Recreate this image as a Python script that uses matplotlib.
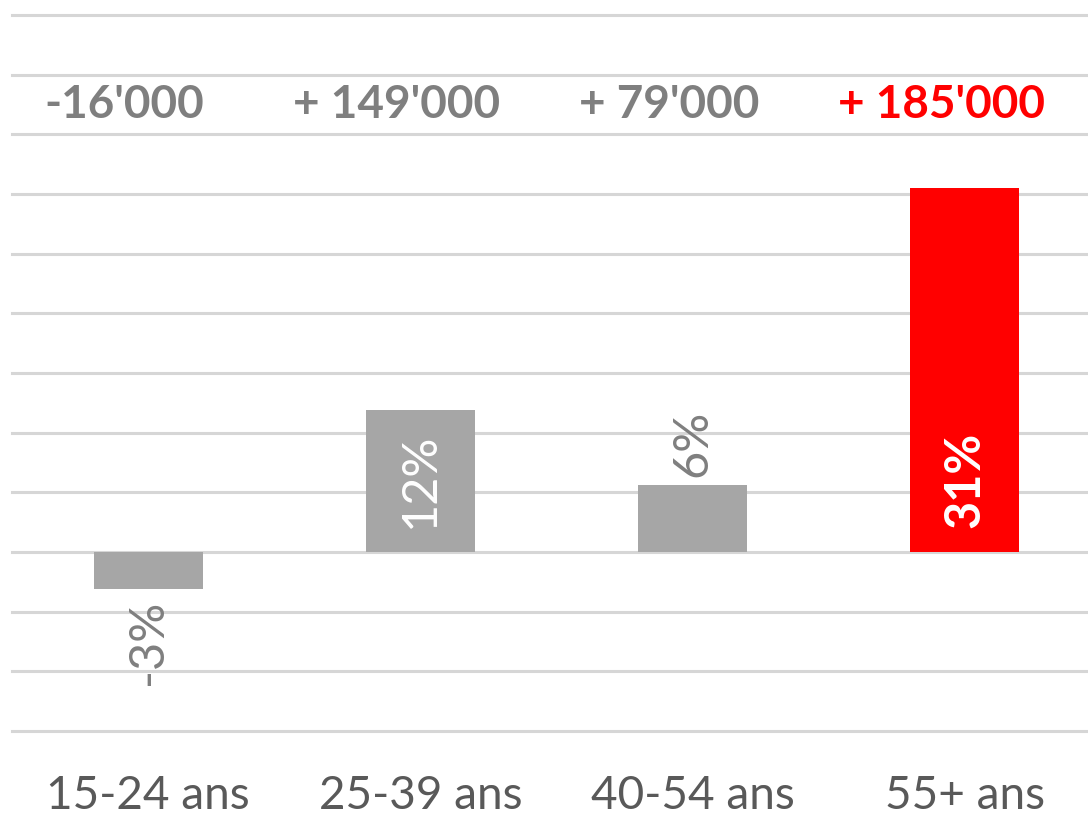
import matplotlib
matplotlib.use("Agg")
import matplotlib.pyplot as plt

plt.rcParams['font.family'] = ['Lato', 'DejaVu Sans']

categories = ["15-24 ans", "25-39 ans", "40-54 ans", "55+ ans"]
pct_values = [-3.1, 11.9, 5.6, 30.5]
pct_labels = ["-3%", "12%", "6%", "31%"]
abs_labels = ["-16'000", "+ 149'000", "+ 79'000", "+ 185'000"]
highlight = [False, False, False, True]

GRAY = "#a6a6a6"
RED = "#ff0000"
TXT_GRAY = "#7f7f7f"
CAT_GRAY = "#595959"

fig = plt.figure(figsize=(10.88, 8.18), dpi=100)
ax = fig.add_axes([12 / 1088, 1 - 731 / 818, 1089 / 1088, (731 - 15) / 818])

x = list(range(len(categories)))
colors = [RED if h else GRAY for h in highlight]
ax.bar(x, pct_values, width=0.40, color=colors, zorder=2)

ax.set_xlim(-0.5, 3.5)
ax.set_ylim(-15, 45)
ax.set_yticks(range(-15, 46, 5))
ax.yaxis.grid(True, color="#d6d6d6", linewidth=2.2, zorder=0)
for gl in ax.get_ygridlines():
    gl.set_clip_on(False)
ax.set_axisbelow(True)
ax.tick_params(axis='y', left=False, labelleft=False)
ax.tick_params(axis='x', bottom=False, pad=28)
for s in ax.spines.values():
    s.set_visible(False)

ax.set_xticks(x)
ax.set_xticklabels(categories, fontsize=33, color=CAT_GRAY)

# Absolute change labels on top
for xi, lab, h in zip(x, abs_labels, highlight):
    ax.annotate(lab, (xi, 37.5), xytext=(-17, 0), textcoords='offset points',
                ha='center', va='center', fontsize=33,
                fontweight='bold', color=RED if h else TXT_GRAY)

# Percentage labels (rotated)
for xi, v, lab, h in zip(x, pct_values, pct_labels, highlight):
    if v >= 10:
        ax.text(xi, 2.0, lab, rotation=90, ha='center', va='bottom',
                fontsize=35, color='white',
                fontweight='bold' if h else 'normal', zorder=3)
    elif v >= 0:
        ax.annotate(lab, (xi, v), xytext=(0, 6), textcoords='offset points',
                    rotation=90, ha='center', va='bottom', fontsize=35,
                    color=TXT_GRAY, zorder=3)
    else:
        ax.annotate(lab, (xi, v), xytext=(0, -8), textcoords='offset points',
                    rotation=90, ha='center', va='top', fontsize=35,
                    color=TXT_GRAY, zorder=3)

fig.savefig("out.png", dpi=100)
